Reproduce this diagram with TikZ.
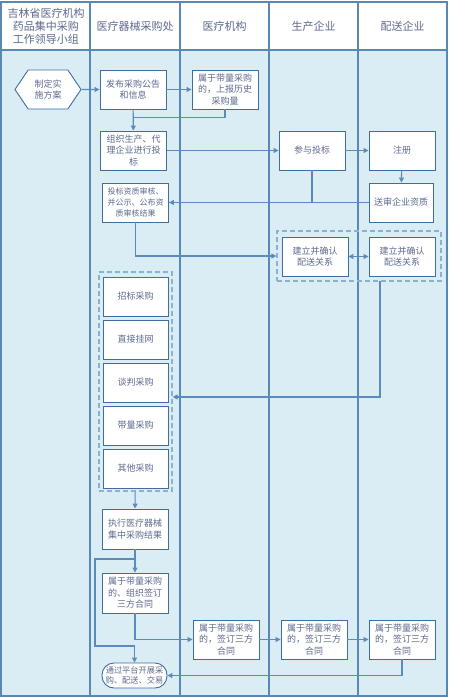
\documentclass[tikz,border=0pt]{standalone}
\usepackage{fontspec}
\setmainfont{Noto Sans CJK SC}
\usetikzlibrary{arrows.meta, shapes.symbols}
\definecolor{lanefill}{HTML}{DAEDF4}
\definecolor{laneline}{HTML}{5A88B4}
\definecolor{boxline}{HTML}{3E6D9E}
\definecolor{conn}{HTML}{5B8BBA}
\definecolor{grpline}{HTML}{8DB1D0}
\definecolor{txt}{HTML}{5E6A8E}
\tikzset{
  box/.style={draw=boxline, fill=white, line width=0.9pt, minimum width=66pt, minimum height=39pt, inner sep=1pt, align=center, text=txt, font=\fontsize{9}{11.5}\selectfont},
  hexa/.style={box, signal, signal to=west and east, signal pointer angle=112},
  grp/.style={draw=grpline, dash pattern=on 5pt off 3pt, line width=1.2pt, inner sep=0pt},
  arr/.style={draw=conn, line width=1.1pt, -{Triangle[length=5pt,width=5pt]}},
  conline/.style={draw=conn, line width=1.1pt},
  head/.style={text=txt, align=center, font=\fontsize{11}{13}\selectfont}
}
\begin{document}
\begin{tikzpicture}[x=1pt,y=-1pt]
	\useasboundingbox (0,0) rectangle (448,698);
	\fill[white] (1,2) rectangle (447,50);
	\fill[lanefill] (1,50) rectangle (447,696);
	
	% lanes
	\draw[laneline, line width=1.2pt] (1,2) rectangle (447,696);
	\draw[laneline, line width=1.2pt] (1,50) -- (447,50);
	\foreach \x in {90,180,269,358}
	\draw[laneline, line width=1.2pt] (\x,2) -- (\x,696);
	
	\node[head] (h-lead) at (46,26) {吉林省医疗机构\\药品集中采购\\工作领导小组};
	\node[head] (h-dept) at (135,26) {医疗器械采购处};
	\node[head] (h-hosp) at (224.5,26) {医疗机构};
	\node[head] (h-prod) at (313.5,26) {生产企业};
	\node[head] (h-dist) at (402.5,26) {配送企业};
	
	% dashed groups
	\node[grp, minimum width=164pt, minimum height=50pt] (psg) at (359,256) {};
	\node[grp, minimum width=73pt, minimum height=219pt] (cg) at (135.5,381.5) {};
	
	% boxes
	\node[hexa] (zhiding) at (48,89.5) {制定实\\施方案};
	\node[box] (fabu) at (133,89.5) {发布采购公告\\和信息};
	\node[box] (shangbao) at (225,89.5) {属于带量采购\\的，上报历史\\采购量};
	\node[box] (zuzhi) at (133.5,150.5) {组织生产、代\\理企业进行投\\标};
	\node[box] (canyu) at (312,150.5) {参与投标};
	\node[box] (zhuce) at (402,150.5) {注册};
	\node[box, minimum width=64pt] (songshen) at (401,202.5) {送审企业资质};
	\node[box, font=\fontsize{8}{11}\selectfont] (zishen) at (135.5,202.5) {投标资质审核、\\并公示、公布资\\质审核结果};
	\node[box] (ps1) at (315,256.5) {建立并确认\\配送关系};
	\node[box] (ps2) at (402,256.5) {建立并确认\\配送关系};
	
	\foreach \n/\t [count=\i from 0] in {zb/招标采购, gw/直接挂网, tp/谈判采购, dl/带量采购, qt/其他采购}
	\node[box, minimum width=65pt] (\n) at (135.5,296.5+43*\i) {\t};
	
	\node[box, minimum height=40pt] (zhixing) at (135,529) {执行医疗器械\\集中采购结果};
	\node[box, minimum height=40pt] (qianding) at (135,593) {属于带量采购\\的、组织签订\\三方合同};
	\node[box] (ht1) at (226,639.5) {属于带量采购\\的，签订三方\\合同};
	\node[box] (ht2) at (314,639.5) {属于带量采购\\的，签订三方\\合同};
	\node[box] (ht3) at (402,639.5) {属于带量采购\\的，签订三方\\合同};
	\node[box, rounded corners=12pt, minimum width=65pt, minimum height=25pt, font=\fontsize{8.2}{10.5}\selectfont] (tongguo) at (134.5,675.5) {通过平台开展采\\购、配送、交易};
	
	% connectors
	\coordinate (j1) at (133,117.5);
	\coordinate (k1) at (380,281);
	\coordinate (k2) at (95,646);
	\draw[arr] (zhiding) -- (fabu);
	\draw[arr] (fabu) -- (shangbao);
	\draw[arr] (fabu) -- (zuzhi);
	\draw[conline] (shangbao) |- (j1);
	\draw[arr] (zuzhi) -- (canyu);
	\draw[arr] (canyu) -- (zhuce);
	\draw[arr] (zhuce) -- (songshen);
	\draw[arr] (songshen) -- (zishen);
	\draw[conline] (canyu) -- (canyu.south |- songshen.west);
	\draw[arr] (zishen) |- (psg.west);
	\draw[draw=conn, line width=1.1pt, {Triangle[length=5pt,width=5pt]}-{Triangle[length=5pt,width=5pt]}] (ps1) -- (ps2);
	\draw[arr] (k1) |- (cg.east |- 0,397);
	\draw[arr] (cg) -- (zhixing);
	\draw[arr] (zhixing) -- (qianding);
	\draw[arr] (zhixing.south |- 0,559) -| (k2) -| (tongguo);
	\draw[arr] (qianding) |- (ht1);
	\draw[arr] (ht1) -- (ht2);
	\draw[arr] (ht2) -- (ht3);
	\draw[arr] (ht3) |- (tongguo);
\end{tikzpicture}
\end{document}
